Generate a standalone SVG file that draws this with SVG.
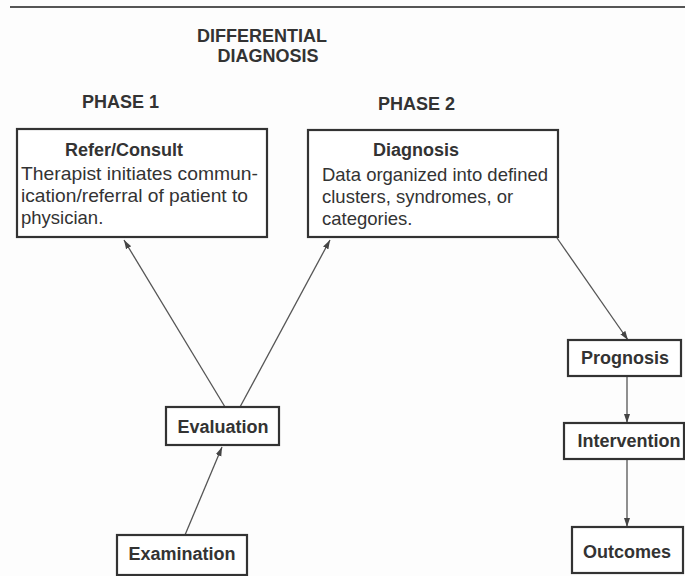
<svg xmlns="http://www.w3.org/2000/svg" width="685" height="576" viewBox="0 0 685 576">
<defs>
<marker id="arr" markerWidth="10" markerHeight="8" refX="9" refY="4" orient="auto" markerUnits="userSpaceOnUse">
<path d="M0,1 L9,4 L0,7 Z" fill="#444"/>
</marker>
<style>
.box{fill:#fff;stroke:#333;stroke-width:2.2}
.t{font-family:"Liberation Sans",Arial,sans-serif;fill:#333}
.b{font-weight:bold;font-size:18px}
.r{font-size:18.5px}
.c{stroke:#555;stroke-width:1.3;fill:none;marker-end:url(#arr)}
</style>
</defs>
<rect width="685" height="576" fill="#fdfdfd"/>
<line x1="10" y1="7" x2="685" y2="7" stroke="#555" stroke-width="2"/>
<g id="title">
<text class="t b" x="262" y="42" text-anchor="middle">DIFFERENTIAL</text>
<text class="t b" x="268" y="62" text-anchor="middle">DIAGNOSIS</text>
</g>
<text class="t b" x="82" y="108">PHASE 1</text>
<text class="t b" x="378" y="110">PHASE 2</text>
<g id="connectors">
<line class="c" x1="225" y1="407" x2="124" y2="240"/>
<line class="c" x1="240" y1="407" x2="330" y2="240"/>
<line class="c" x1="185" y1="535" x2="222" y2="447"/>
<line class="c" x1="557" y1="238" x2="628" y2="340"/>
<line class="c" x1="627" y1="376" x2="627" y2="423"/>
<line class="c" x1="627" y1="459" x2="627" y2="527"/>
</g>
<g id="refer">
<rect class="box" x="17" y="129" width="250" height="108"/>
<text class="t b" x="124" y="156" text-anchor="middle">Refer/Consult</text>
<text class="t r" x="21" y="180" textLength="237" lengthAdjust="spacingAndGlyphs">Therapist initiates commun-</text>
<text class="t r" x="21" y="202" textLength="227" lengthAdjust="spacingAndGlyphs">ication/referral of patient to</text>
<text class="t r" x="21" y="224">physician.</text>
</g>
<g id="diagnosis">
<rect class="box" x="308" y="130" width="250" height="107"/>
<text class="t b" x="416" y="156" text-anchor="middle">Diagnosis</text>
<text class="t r" x="322" y="181" textLength="226" lengthAdjust="spacingAndGlyphs">Data organized into defined</text>
<text class="t r" x="322" y="203">clusters, syndromes, or</text>
<text class="t r" x="322" y="225">categories.</text>
</g>
<g id="evaluation">
<rect class="box" x="166" y="407" width="113" height="38"/>
<text class="t b" x="223" y="433" text-anchor="middle">Evaluation</text>
</g>
<g id="examination">
<rect class="box" x="117" y="535" width="130" height="40"/>
<text class="t b" x="182" y="560" text-anchor="middle">Examination</text>
</g>
<g id="prognosis">
<rect class="box" x="568" y="340" width="113" height="36"/>
<text class="t b" x="625" y="364" text-anchor="middle">Prognosis</text>
</g>
<g id="intervention">
<rect class="box" x="564" y="423" width="120" height="36"/>
<text class="t b" x="629" y="447" text-anchor="middle">Intervention</text>
</g>
<g id="outcomes">
<rect class="box" x="572" y="527" width="111" height="46"/>
<text class="t b" x="627" y="558" text-anchor="middle">Outcomes</text>
</g>
</svg>
